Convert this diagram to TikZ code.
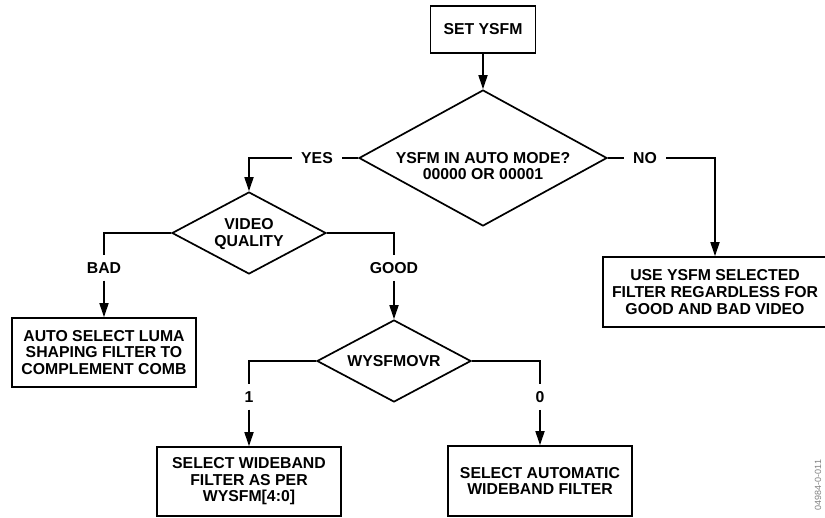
\documentclass[tikz,border=0pt]{standalone}
\usepackage{fontspec}
\setmainfont{Liberation Sans}
\usetikzlibrary{shapes.geometric,arrows.meta}
\begin{document}
\begin{tikzpicture}[x=1pt,y=-1pt,
  every node/.style={font=\bfseries\fontsize{15.8}{16.6}\selectfont, align=center},
  box/.style={draw, line width=1.7pt, inner sep=0pt},
  dec/.style={draw, diamond, line width=1.7pt, inner sep=0pt},
  lbl/.style={inner xsep=9pt, inner ysep=7pt},
  conn/.style={line width=1.7pt},
  arr/.style={line width=1.7pt, -{Triangle[length=14pt,width=9pt]}}
]
\useasboundingbox (0,0) rectangle (825,517);
% nodes
\node[box, minimum width=105pt, minimum height=47pt] (set) at (483,29.5) {SET YSFM};
\node[dec, minimum width=248pt, minimum height=136pt] (d1) at (483,158) {};
\node (d1t) at (483,166) {YSFM IN AUTO MODE?\\00000 OR 00001};
\node[lbl] (yes) at (317,158) {YES};
\node[lbl] (no) at (645,158) {NO};
\node[box, minimum width=224pt, minimum height=70pt] (nobox) at (715,292) {USE YSFM SELECTED\\FILTER REGARDLESS FOR\\GOOD AND BAD VIDEO};
\node[dec, minimum width=154pt, minimum height=82pt] (d2) at (249,233) {};
\node (d2t) at (249,234) {VIDEO\\QUALITY};
\node[lbl] (bad) at (104,268) {BAD};
\node[lbl] (good) at (394,268) {GOOD};
\node[box, minimum width=184pt, minimum height=69pt] (badbox) at (104,352.5) {AUTO SELECT LUMA\\SHAPING FILTER TO\\COMPLEMENT COMB};
\node[dec, minimum width=154pt, minimum height=82pt] (d3) at (394,361) {};
\node (d3t) at (394,361) {WYSFMOVR};
\node[lbl] (one) at (249,397) {1};
\node[lbl] (zero) at (540,397) {0};
\node[box, minimum width=184pt, minimum height=69pt] (box1) at (249,481.5) {SELECT WIDEBAND\\FILTER AS PER\\WYSFM[4:0]};
\node[box, minimum width=184pt, minimum height=70pt] (box0) at (540,481) {SELECT AUTOMATIC\\WIDEBAND FILTER};
\node[font=\fontsize{9}{9}\selectfont, text=gray, rotate=90] (code) at (818,485) {04984-0-011};
% connectors
\draw[arr] (set.south) -- (d1.north);
\draw[conn] (d1.west) -- (yes.east);
\draw[arr] (yes.west) -| (d2.north);
\draw[conn] (d1.east) -- (no.west);
\draw[arr] (no.east) -| (nobox.north);
\draw[conn] (d2.west) -| (bad.north);
\draw[arr] (bad.south) -- (badbox.north);
\draw[conn] (d2.east) -| (good.north);
\draw[arr] (good.south) -- (d3.north);
\draw[conn] (d3.west) -| (one.north);
\draw[arr] (one.south) -- (box1.north);
\draw[conn] (d3.east) -| (zero.north);
\draw[arr] (zero.south) -- (box0.north);
\end{tikzpicture}
\end{document}
